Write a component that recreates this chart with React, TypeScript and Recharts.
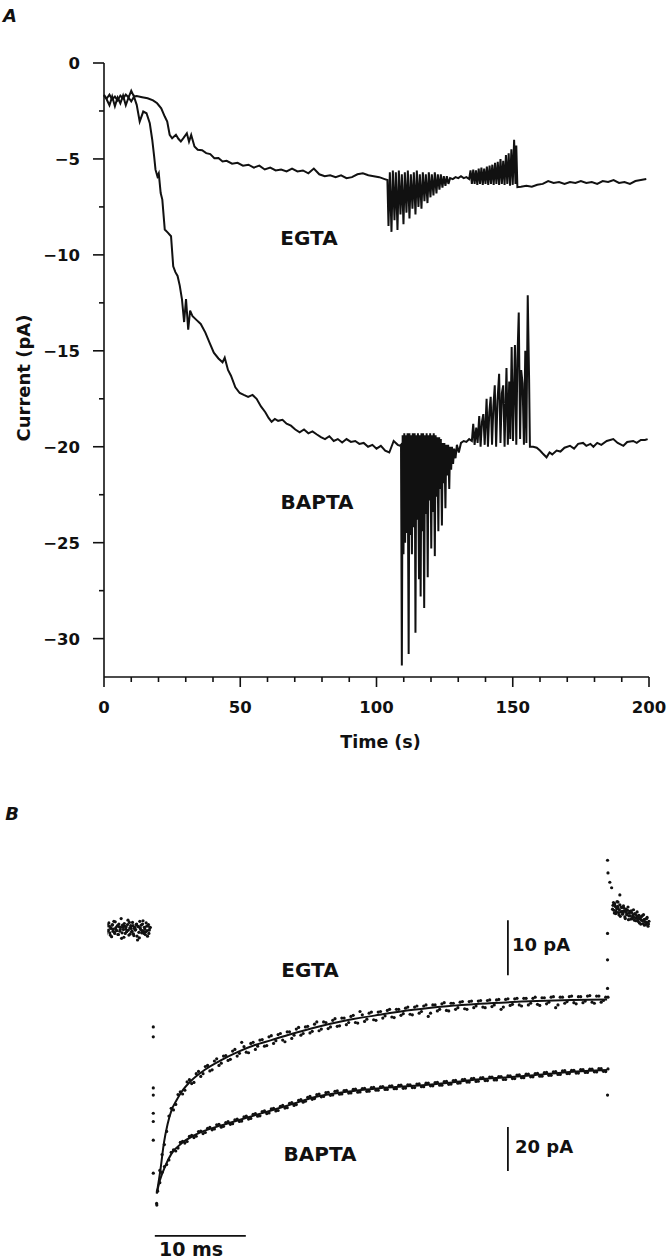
import React from "react";
import {
  LineChart,
  ComposedChart,
  Line,
  Scatter,
  XAxis,
  YAxis,
  ReferenceLine,
} from "recharts";

// ---------- Panel A: whole-cell current vs time ----------
const TIME_TICKS = [0, 10, 20, 30, 40, 50, 60, 70, 80, 90, 100, 110, 120, 130, 140, 150, 160, 170, 180, 190, 200];
const CURRENT_TICKS = [0, -2.5, -5, -7.5, -10, -12.5, -15, -17.5, -20, -22.5, -25, -27.5, -30];

// [time (s), current (pA)]
const EGTA_TRACE: [number, number][] = [
  [0, -1.7], [1, -1.85], [2, -1.65], [3, -1.9], [4, -1.75], [5, -1.95], [6, -1.7], [7, -1.85], [8, -1.65], [9, -1.8],
  [10, -1.45], [11, -1.75], [12, -1.72], [14, -1.78], [16, -1.84], [18, -1.95], [19.5, -2.1], [21, -2.36], [22.3, -2.79],
  [23.2, -3.05], [24.1, -3.74], [25, -3.92], [26.4, -3.74], [27.3, -3.95], [28.2, -4.09], [29.2, -3.9], [30.4, -3.66],
  [31.2, -4.1], [32, -3.75], [33.2, -4.35], [34.4, -4.52], [36, -4.55], [37.5, -4.7], [39, -4.75], [40.5, -4.96],
  [42, -4.95], [43.5, -5.13], [45, -5.1], [47, -5.25], [49, -5.2], [51, -5.35], [53, -5.3], [55, -5.45], [57, -5.35],
  [59, -5.55], [61, -5.45], [63, -5.6], [65, -5.55], [67, -5.65], [69, -5.5], [71, -5.65], [73, -5.6], [75, -5.75],
  [77, -5.5], [79, -5.8], [81, -5.9], [83, -5.85], [85, -5.95], [87, -5.85], [89, -6.0], [91, -5.95], [93, -5.8],
  [95, -5.75], [97, -5.85], [99, -5.9], [101, -5.95], [103, -6.05], [104, -6.1],
  [104.4, -8.5], [104.9, -5.7], [105.5, -8.8], [106, -5.6], [106.6, -8.2], [107.1, -5.7], [107.7, -8.7], [108.2, -5.6],
  [108.8, -7.9], [109.3, -5.8], [109.9, -8.4], [110.4, -5.7], [111, -7.8], [111.5, -5.6], [112.1, -8.1], [112.6, -5.8],
  [113.2, -7.6], [113.7, -5.7], [114.3, -7.9], [114.8, -5.6], [115.4, -7.5], [115.9, -5.8], [116.5, -7.6], [117, -5.7],
  [117.6, -7.2], [118.1, -5.8], [118.7, -7.3], [119.2, -5.7], [119.8, -7.0], [120.3, -5.8], [120.9, -6.9], [121.4, -5.7],
  [122, -6.8], [122.5, -5.8], [123.1, -6.6], [123.6, -5.8], [124.2, -6.5], [124.7, -5.9], [125.3, -6.4], [125.8, -5.9],
  [126.4, -6.3], [127, -6.0], [128, -6.05], [129, -5.95], [130, -6.0], [131, -5.9], [132, -6.0], [133, -5.95], [134, -6.05],
  [134.5, -5.6], [135, -6.3], [135.5, -5.55], [136, -6.3], [136.5, -5.6], [137, -6.35], [137.5, -5.5], [138, -6.3],
  [138.5, -5.45], [139, -6.35], [139.5, -5.5], [140, -6.3], [140.5, -5.4], [141, -6.35], [141.5, -5.35], [142, -6.3],
  [142.5, -5.3], [143, -6.35], [143.5, -5.2], [144, -6.3], [144.5, -5.15], [145, -6.35], [145.5, -5.0], [146, -6.3],
  [146.5, -5.1], [147, -6.35], [147.5, -4.8], [148, -6.3], [148.5, -4.7], [149, -6.4], [149.5, -4.5], [150, -6.35],
  [150.5, -4.0], [151, -6.3], [151.3, -4.3], [151.7, -6.47],
  [153, -6.45], [155, -6.4], [157, -6.45], [159, -6.35], [161, -6.3], [163, -6.15], [165, -6.25], [167, -6.2], [169, -6.3],
  [171, -6.2], [173, -6.25], [175, -6.15], [177, -6.25], [179, -6.2], [181, -6.3], [183, -6.15], [185, -6.2], [187, -6.1],
  [189, -6.25], [191, -6.2], [193, -6.3], [195, -6.15], [197, -6.1], [199, -6.05],
];

const BAPTA_TRACE: [number, number][] = [
  [0, -1.65], [1, -1.9], [2, -2.2], [3, -1.75], [4, -2.25], [5, -1.8], [6, -2.1], [7, -1.7], [8, -2.2], [9, -1.8],
  [10, -2.0], [11, -1.75], [12, -2.18], [13.1, -3.05], [14.4, -2.53], [15.6, -2.62], [16.8, -3.14], [17.7, -4.0],
  [18.4, -4.87], [18.9, -5.56], [19.6, -5.91], [20.1, -5.75], [20.8, -6.78], [21.4, -7.12], [22.3, -8.68], [23.5, -8.85],
  [24.6, -9.03], [25.4, -10.6], [26.2, -10.9], [27, -11.1], [27.8, -11.6], [28.6, -12.3], [29.4, -13.5], [30.1, -12.3],
  [30.9, -13.9], [31.6, -12.9], [32.5, -13.2], [34, -13.4], [35.5, -13.6], [37.2, -14.05], [38.8, -14.6], [40.3, -15.1],
  [42, -15.4], [43.5, -15.6], [44.3, -15.36], [45.5, -16.0], [46.6, -16.3], [48.2, -16.9], [49.8, -17.2], [51.3, -17.3],
  [52.9, -17.4], [54.5, -17.3], [56, -17.5], [57.6, -17.9], [59.2, -18.2], [60.4, -18.5], [61.5, -18.7], [62.7, -18.55],
  [63.9, -18.65], [65.5, -18.6], [67, -18.8], [68.6, -18.9], [70.2, -19.1], [71.8, -19.25], [73.4, -19.1], [75, -19.3],
  [76.5, -19.2], [78, -19.35], [79.6, -19.5], [81.1, -19.6], [82.7, -19.45], [84.3, -19.7], [85.8, -19.6], [87.4, -19.78],
  [89, -19.6], [90.6, -19.75], [92.2, -19.7], [93.7, -19.85], [95.3, -19.8], [96.9, -20.0], [98.5, -19.9], [100, -20.1],
  [101.6, -19.95], [103.2, -20.2], [104.7, -20.3], [106.3, -19.7], [107.8, -19.9], [108.7, -19.95],
  [109.0, -19.9], [109.3, -31.4], [109.6, -19.4], [109.9, -25.6], [110.2, -19.3], [110.5, -25.0], [110.8, -19.4],
  [111.1, -24.5], [111.4, -19.3], [111.8, -30.8], [112.1, -19.3], [112.4, -24.6], [112.7, -19.4], [113.0, -25.6],
  [113.3, -19.3], [113.7, -24.2], [114.0, -19.3], [114.3, -29.7], [114.6, -19.4], [114.9, -23.8], [115.2, -19.3],
  [115.6, -26.9], [115.9, -19.4], [116.2, -27.8], [116.5, -19.3], [116.8, -24.4], [117.1, -19.3], [117.5, -28.4],
  [117.8, -19.4], [118.1, -23.5], [118.4, -19.3], [118.8, -26.8], [119.1, -19.4], [119.4, -22.8], [119.7, -19.3],
  [120.1, -25.3], [120.4, -19.4], [120.7, -23.4], [121.0, -19.3], [121.4, -25.7], [121.7, -19.4], [122.0, -22.6],
  [122.3, -19.5], [122.7, -24.4], [123.0, -19.5], [123.3, -22.2], [123.6, -19.6], [124.0, -24.1], [124.3, -19.8],
  [124.6, -21.9], [124.9, -19.8], [125.3, -23.2], [125.6, -19.9], [126.0, -21.5], [126.3, -19.9], [126.7, -22.2],
  [127.0, -20.0], [127.4, -21.2], [127.7, -20.0], [128.1, -20.9], [128.5, -20.1], [129.0, -20.6], [129.5, -19.9],
  [130.2, -20.3], [131, -19.8], [132, -19.7], [133, -19.75], [134, -19.6], [135, -19.7],
  [135.5, -18.8], [136, -19.9], [136.6, -19.0], [137.1, -19.8], [137.7, -18.4], [138.2, -20.0], [138.7, -18.7],
  [139.2, -18.3], [139.7, -19.9], [140.4, -17.5], [140.9, -20.0], [141.4, -18.2], [141.9, -17.4], [142.4, -19.9],
  [142.9, -17.9], [143.4, -16.8], [143.9, -20.0], [144.4, -17.6], [145, -16.2], [145.5, -19.8], [146, -17.2],
  [146.5, -16.8], [147, -20.0], [147.7, -15.9], [148.2, -19.9], [148.7, -16.6], [149.1, -19.6], [149.6, -14.8],
  [150.1, -19.7], [150.8, -14.7], [151.3, -19.9], [151.7, -15.5], [152.2, -13.0], [152.7, -19.6], [153.1, -16.0],
  [153.6, -16.7], [154.1, -19.9], [154.6, -15.0], [155.0, -19.8], [155.5, -12.1], [156.0, -16.5], [156.3, -20.0],
  [157.5, -20.0], [158.8, -20.05], [160, -20.2], [161, -20.35], [162.4, -20.55], [163.5, -20.3], [164.5, -20.4],
  [166.1, -20.2], [167.5, -20.25], [169, -20.05], [171, -19.95], [172.5, -20.1], [174, -19.85], [175.8, -19.8],
  [177, -19.95], [178.5, -19.85], [179.6, -20.0], [181, -19.8], [182.5, -19.9], [184.5, -19.7], [186.9, -19.6],
  [188.5, -19.8], [190.6, -19.95], [192, -19.75], [194.2, -19.7], [195.5, -19.8], [197, -19.65], [198.5, -19.65],
  [199.5, -19.6],
];

// ---------- Panel B: tail currents (ms, pA) ----------
// EGTA trace is plotted at 10 pA per bar, BAPTA at 20 pA per bar
const SAMPLE_MS = 0.5;
// samples at 0.5, 1.0, ... 50.0 ms
const EGTA_DOTS = [
  -47.6, -41.0, -36.8, -32.6, -31.9, -29.6, -29.3, -27.4, -27.9, -25.9, -26.3, -24.8, -25.6, -23.6, -24.4, -23.0,
  -23.7, -21.9, -22.6, -21.4, -22.5, -20.6, -21.3, -20.1, -21.2, -19.4, -20.3, -19.0, -20.5, -18.7, -19.3, -17.9,
  -19.0, -17.7, -18.6, -16.9, -18.2, -17.0, -17.8, -16.3, -17.6, -16.2, -17.0, -15.7, -17.1, -15.6, -16.4, -15.1,
  -16.6, -15.0, -15.8, -14.6, -16.1, -14.6, -15.4, -14.2, -15.6, -14.0, -15.0, -13.8, -15.3, -13.8, -14.6, -13.4,
  -14.9, -13.5, -14.3, -13.2, -14.6, -13.1, -14.0, -13.0, -14.3, -12.9, -13.8, -12.8, -14.2, -12.7, -13.7, -12.6,
  -14.0, -12.6, -13.5, -12.4, -13.9, -12.5, -13.3, -12.3, -13.8, -12.4, -13.2, -12.2, -13.6, -12.3, -13.1, -12.1,
  -13.5, -12.2, -13.0, -12.4,
];
// samples at 0.75, 1.25, ... 49.75 ms
const EGTA_DOTS_MID = [
  -43.9, -39.2, -34.0, -32.9, -30.1, -30.0, -27.8, -28.1, -26.3, -26.8, -25.0, -25.8, -24.0, -24.8, -23.1, -23.9,
  -22.2, -23.1, -20.6, -22.4, -20.8, -21.9, -20.2, -21.3, -19.6, -20.8, -19.2, -20.2, -18.7, -19.9, -18.2, -19.3,
  -17.8, -18.9, -17.3, -18.5, -16.9, -18.1, -16.6, -17.7, -16.2, -17.4, -15.9, -17.0, -15.0, -16.8, -15.3, -16.5,
  -15.1, -16.2, -14.8, -16.0, -14.6, -15.7, -14.4, -15.5, -14.2, -15.3, -14.0, -15.9, -13.8, -14.9, -13.6, -14.8,
  -13.5, -14.6, -13.3, -14.5, -13.2, -14.3, -13.1, -14.2, -13.0, -14.1, -12.9, -14.6, -12.8, -13.9, -12.7, -13.8,
  -12.6, -13.8, -12.6, -13.7, -12.5, -13.6, -12.4, -14.3, -12.4, -13.5, -12.3, -13.4, -12.3, -13.4, -12.2, -13.3,
  -12.2, -13.3, -12.4,
];
const BAPTA_DOTS = [
  -119.2, -110.6, -107.1, -101.5, -100.9, -97.0, -97.3, -94.3, -94.8, -92.1, -93.0, -90.6, -91.3, -89.0, -90.1, -88.0,
  -88.8, -86.7, -87.5, -85.4, -86.4, -84.2, -85.1, -83.0, -83.9, -81.8, -82.7, -80.6, -81.4, -79.3, -80.2, -77.9,
  -78.7, -76.5, -77.4, -75.3, -76.3, -74.4, -75.6, -73.8, -75.1, -73.4, -74.6, -72.9, -74.2, -72.5, -73.8, -72.1,
  -73.3, -71.7, -72.9, -71.4, -72.6, -71.1, -72.4, -70.8, -72.1, -70.5, -71.7, -70.1, -71.3, -69.8, -71.0, -69.4,
  -70.6, -68.9, -70.1, -68.4, -69.6, -68.0, -69.3, -67.7, -68.9, -67.3, -68.6, -67.1, -68.4, -66.8, -68.0, -66.4,
  -67.6, -66.0, -67.2, -65.7, -66.9, -65.3, -66.5, -64.9, -66.1, -64.5, -65.7, -64.2, -65.5, -63.9, -65.2, -63.7,
  -64.9, -63.5, -64.7, -63.6,
];
const BAPTA_DOTS_MID = [
  -115.3, -108.0, -105.0, -100.4, -99.6, -96.5, -96.6, -93.8, -94.2, -91.9, -92.5, -90.2, -90.9, -88.8, -89.7, -87.6,
  -88.5, -86.4, -87.3, -85.1, -86.1, -83.9, -84.9, -82.7, -83.6, -81.5, -82.5, -80.2, -81.2, -78.9, -79.8, -77.5,
  -78.3, -76.1, -77.1, -75.0, -76.1, -74.2, -75.4, -73.6, -75.0, -73.3, -74.5, -72.8, -74.1, -72.4, -73.7, -72.0,
  -73.3, -71.6, -72.9, -71.3, -72.6, -71.0, -72.3, -70.8, -72.1, -70.4, -71.7, -70.0, -71.3, -69.7, -71.0, -69.3,
  -70.5, -68.8, -70.0, -68.3, -69.6, -67.9, -69.2, -67.6, -68.9, -67.3, -68.6, -67.1, -68.4, -66.7, -68.0, -66.3,
  -67.6, -65.9, -67.2, -65.6, -66.9, -65.2, -66.5, -64.8, -66.1, -64.4, -65.7, -64.2, -65.5, -63.9, -65.2, -63.7,
  -65.0, -63.5, -64.8,
];
// holding level before the step, sampled every 0.1 ms from -5.2 ms
const BASELINE_START = -5.2;
const BASELINE_DOTS = [
  0.3, -0.6, 0.9, -0.2, 0.5, -1.1, 0.1, 0.7, -0.4, 1.4, -0.8, 0.2, -0.3, 0.6, -1.0, 0.4, -0.1, 1.9, -0.7, 0.3,
  -1.5, 0.5, 0.0, -0.5, 0.8, -0.2, 1.2, -0.9, 0.1, -0.4, 0.6, -1.2, 0.3, -0.1, 0.9, -2.0, 0.4, -1.6, 0.2, 0.7,
  -0.3, 1.5, -0.8, 0.0, -0.5, 0.5, -1.3, 0.8, -0.2, 0.3,
];
const BASELINE_DOTS_MID = [
  -0.9, 0.6, -0.3, 1.1, -0.7, 0.2, -1.4, 0.8, 0.0, -0.6, 1.3, -0.2, 0.5, -1.0, 0.9, -0.4, 0.3, -1.7, 0.7, -0.1,
  1.0, -0.8, 0.4, -0.3, 1.6, -1.1, 0.2, 0.6, -0.5, 1.2, -0.9, 0.1, -0.2, 0.8, -1.3, 0.5, -0.6, 1.4, -0.1, -0.7,
  0.9, -0.4, 0.3, -1.0, 1.1, -0.3, 0.6, -0.8, 0.2,
];
// after the repolarising step, every 0.1 ms from 50.5 ms
const AFTER_START = 50.5;
const AFTER_DOTS = [
  3.6, 4.8, 2.9, 4.1, 3.2, 5.0, 3.8, 2.6, 4.4, 3.1, 3.9, 2.7, 4.2, 3.3, 1.9, 3.6, 2.8, 4.0, 2.4, 3.2, 1.8,
  3.0, 2.2, 3.5, 1.6, 2.7, 2.0, 3.1, 1.4, 2.5, 1.9, 0.9, 2.3, 1.5, 2.6, 0.7, 1.8, 1.2, 2.1, 0.5, 1.4,
];
const AFTER_DOTS_MID = [
  4.3, 3.4, 4.6, 2.8, 3.7, 4.1, 3.0, 3.5, 2.3, 4.0, 3.2, 2.9, 3.8, 2.2, 3.1, 2.6, 3.4, 1.7, 2.9, 2.4,
  3.3, 1.9, 2.6, 2.1, 2.8, 1.5, 2.4, 1.8, 2.2, 1.1, 2.0, 1.6, 2.4, 1.0, 1.7, 1.3, 0.8, 1.9, 1.1, 0.9,
];
// samples caught during the voltage steps
const STEP_DOTS: [number, number][] = [
  [0.03, -17.8], [0.03, -19.6], [0.03, -28.9], [0.03, -30.2], [0.03, -33.5], [0.03, -35.0], [0.03, -38.4],
  [0.03, -44.4], [0.4, -49.9], [49.95, -0.8], [49.95, -5.6], [49.95, -10.8], [49.95, 12.5], [50.0, 10.2],
  [50.2, 8.5], [50.4, 7.5], [51.1, 4.9], [51.3, 6.2],
];
const BAPTA_STEP_DOTS: [number, number][] = [[0.42, -125.5], [49.95, -75.5]];

const EGTA_FIT: [number, number][] = [
  [0.41, -48.1], [0.8, -44.0], [1.2, -38.9], [1.6, -35.5], [2.05, -32.9], [2.6, -31.1], [3.15, -29.6], [4.25, -27.5],
  [5.7, -25.6], [7.55, -23.8], [9.4, -22.3], [11.2, -21.1], [13.0, -20.2], [15.2, -19.1], [17.6, -18.0], [21.3, -16.6],
  [24.9, -15.6], [28.6, -14.7], [32.3, -14.05], [35.9, -13.6], [42.2, -13.1], [46, -12.9], [49.9, -12.8],
];
const BAPTA_FIT: [number, number][] = [
  [0.41, -120.1], [0.77, -114.1], [1.32, -108.0], [2.05, -102.0], [3.15, -97.4], [4.62, -93.6], [6.45, -90.6],
  [8.27, -88.3], [10.1, -86.0], [11.9, -83.8], [13.8, -81.5], [15.6, -79.2], [17.6, -76.6], [21.3, -74.0],
  [24.9, -72.4], [28.6, -71.3], [32.3, -70.0], [35.9, -68.3], [39, -67.4], [42.2, -66.3], [45.8, -65.0], [49.9, -64.1],
];

// scale bars: 10 pA (EGTA gain), 20 pA (BAPTA gain), 10 ms
const EGTA_BAR = { t: 39, from: -8.4, to: 1.6 };
const BAPTA_BAR = { t: 39, from: -110, to: -90 };
const TIME_BAR = { v: -55.8, from: 0.2, to: 10.2 };

const FONT = "'DejaVu Sans', 'Liberation Sans', sans-serif";
const INK = "#111";

const pts = (arr: [number, number][]) => arr.map(([t, v]) => ({ t, v }));
const sampled = (arr: number[], start: number, step: number) =>
  arr.map((v, i) => ({ t: +(start + i * step).toFixed(2), v }));

const fmt = (v: number) => (v === 0 ? "0" : v < 0 ? `\u2212${Math.abs(v)}` : `${v}`);

const YTick = ({ x, y, payload }: any) => {
  const v = payload.value as number;
  const major = v % 5 === 0;
  return (
    <g>
      <line x1={x - (major ? 11 : 5)} x2={x} y1={y} y2={y} stroke={INK} strokeWidth={1.6} />
      {major && (
        <text x={x - 24} y={y + 6} textAnchor="end" fontFamily={FONT} fontWeight="bold" fontSize={16.5} fill={INK}>
          {fmt(v)}
        </text>
      )}
    </g>
  );
};

const XTick = ({ x, y, payload }: any) => {
  const v = payload.value as number;
  const major = v % 50 === 0;
  return (
    <g>
      <line x1={x} x2={x} y1={y} y2={y + (major ? 10 : 5)} stroke={INK} strokeWidth={1.6} />
      {major && (
        <text x={x} y={y + 36} textAnchor="middle" fontFamily={FONT} fontWeight="bold" fontSize={16.5} fill={INK}>
          {v}
        </text>
      )}
    </g>
  );
};

const Dot = (p: any) => <circle cx={p.cx} cy={p.cy} r={1.6} fill={INK} />;

const Tag = ({ x, y, children, size = 19, italic = false, anchor = "center" }: any) => (
  <div
    style={{
      position: "absolute",
      left: x,
      top: y,
      transform: anchor === "center" ? "translate(-50%, -50%)" : "translate(0, -50%)",
      fontFamily: FONT,
      fontWeight: "bold",
      fontStyle: italic ? "italic" : "normal",
      fontSize: size,
      color: INK,
      whiteSpace: "nowrap",
      lineHeight: 1,
    }}
  >
    {children}
  </div>
);

export default function App() {
  const egta = pts(EGTA_TRACE);
  const bapta = pts(BAPTA_TRACE);

  const egtaDots = [
    ...sampled(BASELINE_DOTS, BASELINE_START, 0.1),
    ...sampled(BASELINE_DOTS_MID, BASELINE_START + 0.05, 0.1),
    ...pts(STEP_DOTS),
    ...sampled(EGTA_DOTS, SAMPLE_MS, SAMPLE_MS),
    ...sampled(EGTA_DOTS_MID, SAMPLE_MS * 1.5, SAMPLE_MS),
    ...sampled(AFTER_DOTS, AFTER_START, 0.1),
    ...sampled(AFTER_DOTS_MID, AFTER_START + 0.05, 0.1),
  ];
  const baptaDots = [
    ...sampled(BAPTA_DOTS, SAMPLE_MS, SAMPLE_MS),
    ...sampled(BAPTA_DOTS_MID, SAMPLE_MS * 1.5, SAMPLE_MS),
    ...pts(BAPTA_STEP_DOTS),
  ];

  return (
    <div style={{ position: "absolute", left: 0, top: 0, width: 671, height: 1259, background: "#fff" }}>
      <div style={{ position: "absolute", left: 0, top: 0 }}>
        <LineChart width={671} height={760} margin={{ top: 63, right: 22, bottom: 43, left: 44 }}>
          <XAxis
            type="number"
            dataKey="t"
            domain={[0, 200]}
            ticks={TIME_TICKS}
            interval={0}
            height={40}
            tickSize={0}
            tickMargin={0}
            tickLine={false}
            axisLine={{ stroke: INK, strokeWidth: 1.6 }}
            tick={<XTick />}
            label={({ viewBox }: any) => (
              <text
                x={viewBox.x + viewBox.width / 2 + 4}
                y={viewBox.y + 71}
                textAnchor="middle"
                fontFamily={FONT}
                fontWeight="bold"
                fontSize={17.5}
                fill={INK}
              >
                Time (s)
              </text>
            )}
          />
          <YAxis
            type="number"
            dataKey="v"
            domain={[-32, 0]}
            ticks={CURRENT_TICKS}
            interval={0}
            width={60}
            allowDataOverflow
            tickSize={0}
            tickMargin={0}
            tickLine={false}
            axisLine={{ stroke: INK, strokeWidth: 1.6 }}
            tick={<YTick />}
            label={({ viewBox }: any) => {
              const cx = viewBox.x - 21;
              const cy = viewBox.y + viewBox.height / 2 + 8;
              return (
                <text
                  x={cx}
                  y={cy}
                  transform={`rotate(-90, ${cx}, ${cy})`}
                  textAnchor="middle"
                  dominantBaseline="central"
                  fontFamily={FONT}
                  fontWeight="bold"
                  fontSize={18}
                  fill={INK}
                >
                  Current (pA)
                </text>
              );
            }}
          />
          <Line data={egta} dataKey="v" type="linear" stroke={INK} strokeWidth={2} dot={false} isAnimationActive={false} />
          <Line data={bapta} dataKey="v" type="linear" stroke={INK} strokeWidth={2} dot={false} isAnimationActive={false} />
        </LineChart>
      </div>

      <div style={{ position: "absolute", left: 0, top: 800 }}>
        <ComposedChart width={671} height={459} margin={{ top: 46.5, right: 17.5, bottom: 0, left: 107.5 }}>
          <XAxis type="number" dataKey="t" domain={[-5, 55]} hide allowDataOverflow />
          <YAxis yAxisId="egta" type="number" dataKey="v" domain={[-60, 15]} hide allowDataOverflow />
          <YAxis yAxisId="bapta" type="number" dataKey="v" domain={[-150, 37.5]} hide allowDataOverflow />
          <Line
            yAxisId="egta"
            data={pts(EGTA_FIT)}
            dataKey="v"
            type="monotone"
            stroke={INK}
            strokeWidth={2}
            dot={false}
            isAnimationActive={false}
          />
          <Line
            yAxisId="bapta"
            data={pts(BAPTA_FIT)}
            dataKey="v"
            type="monotone"
            stroke={INK}
            strokeWidth={2}
            dot={false}
            isAnimationActive={false}
          />
          <Scatter yAxisId="egta" data={egtaDots} dataKey="v" shape={<Dot />} isAnimationActive={false} />
          <Scatter yAxisId="bapta" data={baptaDots} dataKey="v" shape={<Dot />} isAnimationActive={false} />
          <ReferenceLine
            yAxisId="egta"
            segment={[{ x: EGTA_BAR.t, y: EGTA_BAR.from }, { x: EGTA_BAR.t, y: EGTA_BAR.to }]}
            stroke={INK}
            strokeWidth={1.8}
            ifOverflow="visible"
          />
          <ReferenceLine
            yAxisId="bapta"
            segment={[{ x: BAPTA_BAR.t, y: BAPTA_BAR.from }, { x: BAPTA_BAR.t, y: BAPTA_BAR.to }]}
            stroke={INK}
            strokeWidth={1.8}
            ifOverflow="visible"
          />
          <ReferenceLine
            yAxisId="egta"
            segment={[{ x: TIME_BAR.from, y: TIME_BAR.v }, { x: TIME_BAR.to, y: TIME_BAR.v }]}
            stroke={INK}
            strokeWidth={1.8}
            ifOverflow="visible"
          />
        </ComposedChart>
      </div>

      <Tag x={10} y={16} size={18} italic>A</Tag>
      <Tag x={309} y={238} size={20}>EGTA</Tag>
      <Tag x={317} y={502} size={20}>BAPTA</Tag>

      <Tag x={12} y={814} size={18} italic>B</Tag>
      <Tag x={310} y={970} size={20}>EGTA</Tag>
      <Tag x={512} y={945} size={18} anchor="left">10 pA</Tag>
      <Tag x={320} y={1154} size={20}>BAPTA</Tag>
      <Tag x={515} y={1147} size={18} anchor="left">20 pA</Tag>
      <Tag x={191} y={1249} size={19}>10 ms</Tag>
    </div>
  );
}
